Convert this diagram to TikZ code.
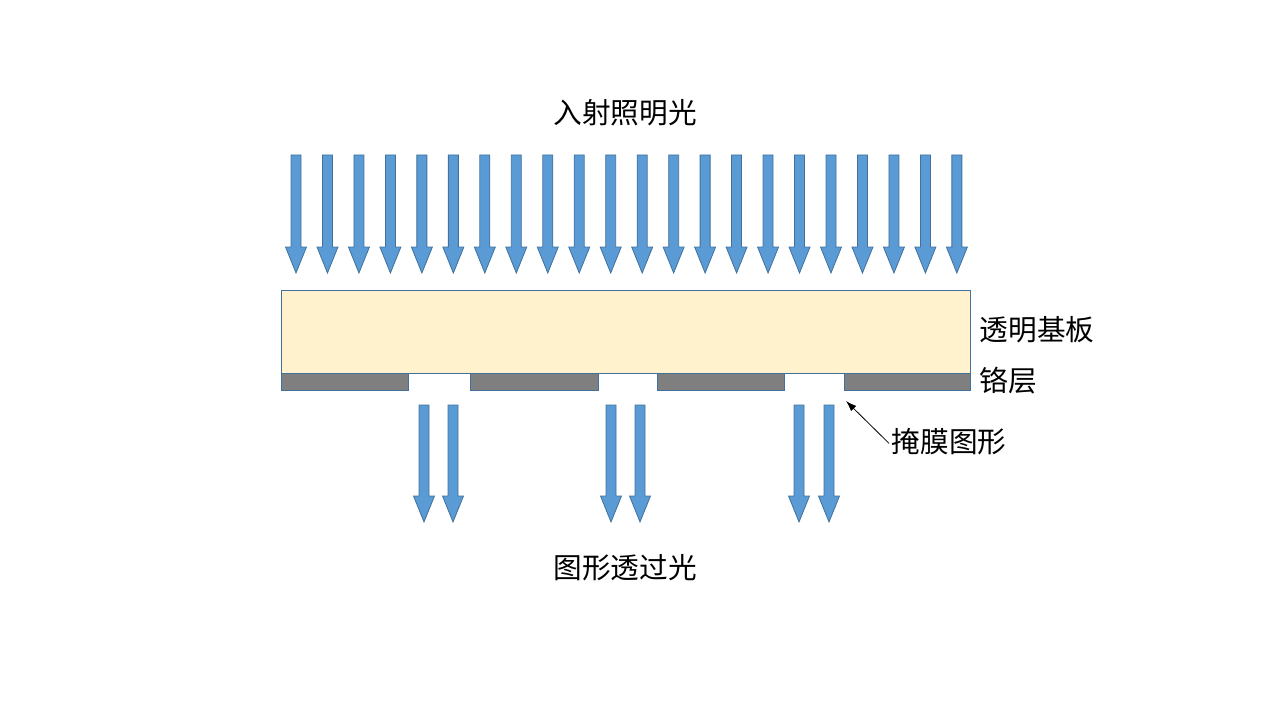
\documentclass[tikz,border=0pt]{standalone}
\usepackage{fontspec}
\newfontfamily\cjk{Noto Sans CJK SC}
\usetikzlibrary{arrows.meta, positioning}
\definecolor{beamblue}{HTML}{5B9BD5}
\definecolor{edgeblue}{HTML}{41719C}
\definecolor{plateyellow}{HTML}{FFF2CC}
\definecolor{chromegray}{HTML}{7F7F7F}

\begin{document}
\begin{tikzpicture}[x=0.75pt, y=-0.75pt,
                beam/.style = {
                    fill=beamblue, draw=edgeblue,
                    line width=0.6pt, line join=miter
                },
                plate/.style = {
                    rectangle, fill=plateyellow, draw=edgeblue,
                    line width=0.6pt, inner sep=0pt,
                    minimum width=516.75pt, minimum height=62.25pt
                },
                chrome/.style = {
                    fill=chromegray, draw=edgeblue, line width=0.6pt
                },
                lbl/.style = {
                    inner sep=2pt, font=\cjk\fontsize{21.5}{26}\selectfont
                },
                pointer/.style = {
                    draw, -{Latex[length=8pt, width=5.5pt]}, line width=0.6pt
                }
                ]
                \useasboundingbox (0,0) rectangle (1280,720);

                % incoming light
                \node[lbl] (inlight) at (625,113) {入射照明光};
                \foreach \i in {0,...,21}
                    \draw[beam] ({296+31.47*\i-5},155) -- ({296+31.47*\i+5},155)
                        -- ({296+31.47*\i+5},247) -- ({296+31.47*\i+10.5},247)
                        -- ({296+31.47*\i},273) -- ({296+31.47*\i-10.5},247)
                        -- ({296+31.47*\i-5},247) -- cycle;

                % substrate and chrome layer
                \node[plate] (substrate) at (625.5,331.5) {};
                \foreach \a/\b in {281/408, 470/598, 657/784, 844/970}
                    \draw[chrome] (\a,373) rectangle (\b,390);
                \node[lbl, anchor=west] (platelbl) at (977,330) {透明基板};
                \node[lbl, anchor=west] (chromelbl) at (977,381) {铬层};

                % transmitted light
                \foreach \x in {424, 453, 611, 640, 799, 829}
                    \draw[beam] (\x-5,405) -- (\x+5,405)
                        -- (\x+5,496) -- (\x+10.5,496)
                        -- (\x,522) -- (\x-10.5,496)
                        -- (\x-5,496) -- cycle;
                \node[lbl] (outlight) at (625,568) {图形透过光};

                % mask pattern pointer
                \coordinate (gapedge) at (846,401);
                \node[lbl, anchor=west] (masklbl) at (889,442) {掩膜图形};
                \path[pointer] ([yshift=-1pt]masklbl.west) -- (gapedge);
            \end{tikzpicture}
\end{document}
